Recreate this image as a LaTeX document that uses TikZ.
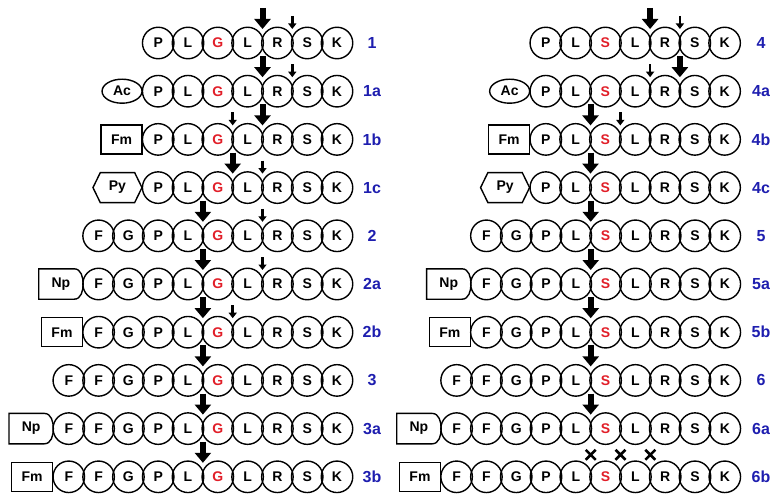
\documentclass[tikz,border=0pt]{standalone}
\usepackage{fontspec}
\setmainfont{Liberation Sans}
\usetikzlibrary{calc,arrows.meta,shapes.geometric,shapes.symbols}

\definecolor{labblue}{RGB}{30,30,175}
\definecolor{resred}{RGB}{225,30,40}

\tikzset{
  res/.style={circle,draw,line width=1.4pt,minimum size=31.5pt,inner sep=0pt,
    font=\fontsize{14}{16}\selectfont\bfseries},
  capac/.style={ellipse,draw,line width=1.4pt,minimum width=40pt,minimum height=24pt,
    inner sep=0pt,font=\fontsize{14}{16}\selectfont\bfseries},
  capfm/.style={rectangle,draw,line width=1.4pt,minimum width=41pt,minimum height=29pt,
    inner sep=0pt,font=\fontsize{14}{16}\selectfont\bfseries},
  cappy/.style={signal,signal to=west and east,signal pointer angle=128,draw,
    line width=1.4pt,minimum width=49pt,minimum height=30pt,inner sep=0pt,
    font=\fontsize{14}{16}\selectfont\bfseries},
  capbox/.style={rectangle,minimum width=44pt,minimum height=30pt,inner sep=0pt,
    font=\fontsize{14}{16}\selectfont\bfseries},
  capline/.style={line width=1.4pt},
  lab/.style={text=labblue,font=\fontsize{16}{18}\selectfont\bfseries},
  bigcut/.style={line width=6pt,-{Triangle[width=16pt,length=10pt]}},
  smallcut/.style={line width=2.6pt,-{Triangle[width=8pt,length=5.5pt]}},
  xmark/.style={line width=2.6pt}
}

% #1 name, #2 x of first residue, #3 y, #4 residues, #5 red position
\newcommand{\chain}[5]{%
  \foreach \resid [count=\idx] in {#4}{%
    \ifnum\idx=#5\relax\def\rescol{resred}\else\def\rescol{black}\fi
    \node[res,text=\rescol] (#1-\idx) at ({#2+(\idx-1)*29.8},#3) {\resid};
  }}
% Np cap: flat left side, round right side
\newcommand{\npcap}[2]{%
  \node[capbox,anchor=east] (#1) at ([xshift=1pt]#2.west) {Np};
  \draw[capline] (#1.north west) -- ([xshift=-9pt]#1.north east)
    to[out=0,in=90] (#1.east) to[out=-90,in=0] ([xshift=-9pt]#1.south east)
    -- (#1.south west) -- cycle;}
% cleavage arrow above the bond between two residues
\newcommand{\cleave}[4]{\draw[#1] ($(#2)!.5!(#3)+(0,-#4)$) -- ($(#2)!.5!(#3)+(0,-14)$);}
% uncleaved bond
\newcommand{\nocut}[2]{\draw[xmark] ($(#1)!.5!(#2)+(-5,-27)$) -- ++(10,10)
  ($(#1)!.5!(#2)+(-5,-17)$) -- ++(10,-10);}

\begin{document}
\begin{tikzpicture}[x=1pt,y=-1pt]
\useasboundingbox (0,0) rectangle (775,495);

% left column
\chain{r1}{158.2}{43}{P,L,G,L,R,S,K}{3}
\chain{r1a}{158.2}{91.2}{P,L,G,L,R,S,K}{3}
\chain{r1b}{158.2}{139.4}{P,L,G,L,R,S,K}{3}
\chain{r1c}{158.2}{187.6}{P,L,G,L,R,S,K}{3}
\chain{r2}{98.6}{235.8}{F,G,P,L,G,L,R,S,K}{5}
\chain{r2a}{98.6}{284}{F,G,P,L,G,L,R,S,K}{5}
\chain{r2b}{98.6}{332.2}{F,G,P,L,G,L,R,S,K}{5}
\chain{r3}{68.8}{380.4}{F,F,G,P,L,G,L,R,S,K}{6}
\chain{r3a}{68.8}{428.6}{F,F,G,P,L,G,L,R,S,K}{6}
\chain{r3b}{68.8}{476.8}{F,F,G,P,L,G,L,R,S,K}{6}

\node[capac,anchor=east] (c1a) at ([xshift=1pt]r1a-1.west) {Ac};
\node[capfm,anchor=east] (c1b) at ([xshift=1pt]r1b-1.west) {Fm};
\node[cappy,anchor=east] (c1c) at ([xshift=1pt]r1c-1.west) {Py};
\npcap{c2a}{r2a-1}
\node[capfm,anchor=east] (c2b) at ([xshift=1pt]r2b-1.west) {Fm};
\npcap{c3a}{r3a-1}
\node[capfm,anchor=east] (c3b) at ([xshift=1pt]r3b-1.west) {Fm};

\node[lab] (l1) at (372,43) {1};
\node[lab] (l1a) at (372,91.2) {1a};
\node[lab] (l1b) at (372,139.4) {1b};
\node[lab] (l1c) at (372,187.6) {1c};
\node[lab] (l2) at (372,235.8) {2};
\node[lab] (l2a) at (372,284) {2a};
\node[lab] (l2b) at (372,332.2) {2b};
\node[lab] (l3) at (372,380.4) {3};
\node[lab] (l3a) at (372,428.6) {3a};
\node[lab] (l3b) at (372,476.8) {3b};

\cleave{bigcut}{r1-4}{r1-5}{35}
\cleave{smallcut}{r1-5}{r1-6}{27}
\cleave{bigcut}{r1a-4}{r1a-5}{35}
\cleave{smallcut}{r1a-5}{r1a-6}{27}
\cleave{smallcut}{r1b-3}{r1b-4}{27}
\cleave{bigcut}{r1b-4}{r1b-5}{35}
\cleave{bigcut}{r1c-3}{r1c-4}{35}
\cleave{smallcut}{r1c-4}{r1c-5}{27}
\cleave{bigcut}{r2-4}{r2-5}{35}
\cleave{smallcut}{r2-6}{r2-7}{27}
\cleave{bigcut}{r2a-4}{r2a-5}{35}
\cleave{smallcut}{r2a-6}{r2a-7}{27}
\cleave{bigcut}{r2b-4}{r2b-5}{35}
\cleave{smallcut}{r2b-5}{r2b-6}{27}
\cleave{bigcut}{r3-5}{r3-6}{35}
\cleave{bigcut}{r3a-5}{r3a-6}{35}
\cleave{bigcut}{r3b-5}{r3b-6}{35}

% right column
\chain{s4}{545.8}{43}{P,L,S,L,R,S,K}{3}
\chain{s4a}{545.8}{91.2}{P,L,S,L,R,S,K}{3}
\chain{s4b}{545.8}{139.4}{P,L,S,L,R,S,K}{3}
\chain{s4c}{545.8}{187.6}{P,L,S,L,R,S,K}{3}
\chain{s5}{486.4}{235.8}{F,G,P,L,S,L,R,S,K}{5}
\chain{s5a}{486.4}{284}{F,G,P,L,S,L,R,S,K}{5}
\chain{s5b}{486.4}{332.2}{F,G,P,L,S,L,R,S,K}{5}
\chain{s6}{456.6}{380.4}{F,F,G,P,L,S,L,R,S,K}{6}
\chain{s6a}{456.6}{428.6}{F,F,G,P,L,S,L,R,S,K}{6}
\chain{s6b}{456.6}{476.8}{F,F,G,P,L,S,L,R,S,K}{6}

\node[capac,anchor=east] (c4a) at ([xshift=1pt]s4a-1.west) {Ac};
\node[capfm,anchor=east] (c4b) at ([xshift=1pt]s4b-1.west) {Fm};
\node[cappy,anchor=east] (c4c) at ([xshift=1pt]s4c-1.west) {Py};
\npcap{c5a}{s5a-1}
\node[capfm,anchor=east] (c5b) at ([xshift=1pt]s5b-1.west) {Fm};
\npcap{c6a}{s6a-1}
\node[capfm,anchor=east] (c6b) at ([xshift=1pt]s6b-1.west) {Fm};

\node[lab] (l4) at (761,43) {4};
\node[lab] (l4a) at (761,91.2) {4a};
\node[lab] (l4b) at (761,139.4) {4b};
\node[lab] (l4c) at (761,187.6) {4c};
\node[lab] (l5) at (761,235.8) {5};
\node[lab] (l5a) at (761,284) {5a};
\node[lab] (l5b) at (761,332.2) {5b};
\node[lab] (l6) at (761,380.4) {6};
\node[lab] (l6a) at (761,428.6) {6a};
\node[lab] (l6b) at (761,476.8) {6b};

\cleave{bigcut}{s4-4}{s4-5}{35}
\cleave{smallcut}{s4-5}{s4-6}{27}
\cleave{smallcut}{s4a-4}{s4a-5}{27}
\cleave{bigcut}{s4a-5}{s4a-6}{35}
\cleave{bigcut}{s4b-2}{s4b-3}{35}
\cleave{smallcut}{s4b-3}{s4b-4}{27}
\cleave{bigcut}{s4c-2}{s4c-3}{35}
\cleave{bigcut}{s5-4}{s5-5}{35}
\cleave{bigcut}{s5a-4}{s5a-5}{35}
\cleave{bigcut}{s5b-4}{s5b-5}{35}
\cleave{bigcut}{s6-5}{s6-6}{35}
\cleave{bigcut}{s6a-5}{s6a-6}{35}
\nocut{s6b-5}{s6b-6}
\nocut{s6b-6}{s6b-7}
\nocut{s6b-7}{s6b-8}
\end{tikzpicture}
\end{document}
